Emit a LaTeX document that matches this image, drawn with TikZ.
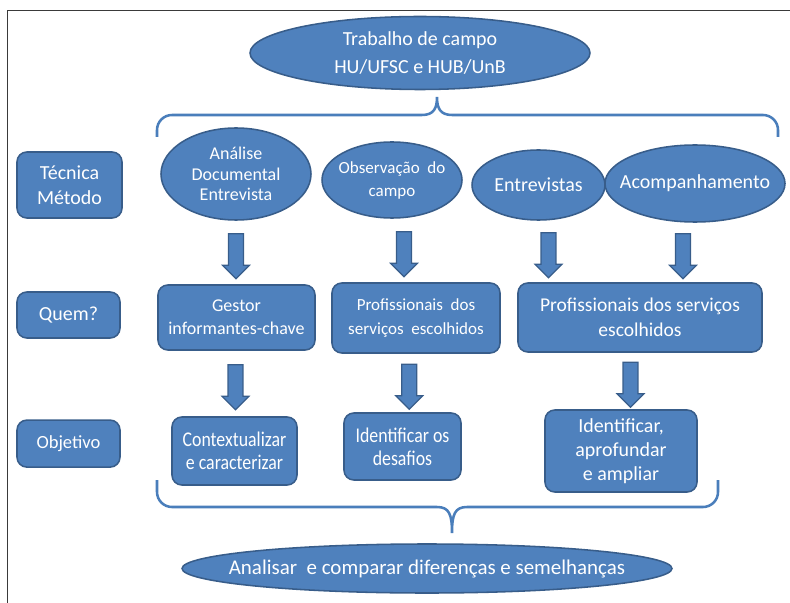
\documentclass[tikz,border=0pt]{standalone}
\usepackage{fontspec}
\setmainfont{Carlito}
\newfontfamily\narrowfont[FakeStretch=0.85]{Carlito}
\usepackage{tikz}
\usetikzlibrary{positioning,calc,shapes.geometric,shapes.arrows}
\definecolor{campoblue}{HTML}{4F81BD}
\definecolor{campoedge}{HTML}{385D8A}
\definecolor{campobrace}{HTML}{4A7EBB}
\definecolor{framegray}{HTML}{3A3A3A}

\begin{document}
\begin{tikzpicture}[
  ell/.style={ellipse, draw=campoedge, fill=campoblue, line width=1.1pt, text=white,
              align=center, inner sep=0pt},
  box/.style={rectangle, rounded corners=7pt, draw=campoedge, fill=campoblue, line width=1.1pt,
              text=white, align=center, inner sep=0pt},
  blk/.style={single arrow, draw=campoedge, fill=campoblue, line width=0.9pt, shape border rotate=270,
              minimum height=1.125cm, minimum width=0.65cm, single arrow head extend=0.15cm,
              inner sep=0.17cm},
  brc/.style={draw=campobrace, line width=1.8pt},
]
\useasboundingbox (0,0) rectangle (19.75,-15.075);
\draw[framegray, line width=0.6pt] (19.75,-0.25) -- (0.175,-0.25) -- (0.175,-15.075);

% top
\node[ell, minimum width=8.5cm, minimum height=1.825cm, font=\fontsize{14.2}{19.9}\selectfont] (trab)
  at (10.5,-1.325) {Trabalho de campo\\HU/UFSC e HUB/UnB};
\draw[brc] (3.925,-3.425) -- (3.925,-3.25) arc[start angle=180, end angle=90, radius=0.375]
  -- (10.55,-2.875) .. controls (10.85,-2.875) and (10.925,-2.7) .. (10.925,-2.425)
  .. controls (10.925,-2.7) and (11.0,-2.875) .. (11.3,-2.875)
  -- (19.075,-2.875) arc[start angle=90, end angle=0, radius=0.375] -- (19.45,-3.425);

% left column
\node[box, minimum width=2.625cm, minimum height=1.65cm, font=\fontsize{14.2}{17.8}\selectfont] (tec)
  at (1.7375,-4.625) {Técnica\\Método};
\node[box, minimum width=2.575cm, minimum height=1.15cm, font=\fontsize{14.2}{17}\selectfont] (quem)
  at (1.7125,-7.875) {Quem?};
\node[box, minimum width=2.575cm, minimum height=1.175cm, font=\fontsize{13.2}{16}\selectfont] (obj)
  at (1.7125,-11.09) {Objetivo};

% techniques
\node[ell, minimum width=3.75cm, minimum height=2.3cm, font=\fontsize{12.8}{14.6}\selectfont] (anal)
  at (5.9,-4.35) {Análise\\Documental\\Entrevista};
\node[ell, minimum width=3.5cm, minimum height=1.9cm, inner xsep=-0.15cm,
      font=\fontsize{12.1}{16.4}\selectfont] (obs)
  at (9.8,-4.5) {Observação\ \ do\\campo};
\node[ell, minimum width=3.325cm, minimum height=1.75cm, font=\fontsize{14.2}{17}\selectfont] (entr)
  at (13.4625,-4.625) {Entrevistas};
\node[ell, minimum width=4.5cm, minimum height=1.925cm, inner xsep=-0.38cm,
      font=\fontsize{14.2}{17}\selectfont] (acomp)
  at (17.375,-4.5875) {Acompanhamento};

% who
\node[box, minimum width=3.925cm, minimum height=1.625cm, font=\fontsize{12.8}{16.4}\selectfont] (gest)
  at (5.9125,-7.9375) {Gestor\\informantes-chave};
\node[box, minimum width=4.2cm, minimum height=1.75cm, font=\fontsize{12.1}{16.4}\selectfont] (prof)
  at (10.4,-7.95) {Profissionais\ \ dos\\serviços\ \ escolhidos};
\node[box, minimum width=6.1cm, minimum height=1.725cm, font=\fontsize{13.9}{17.8}\selectfont] (profs)
  at (16,-7.9375) {Profissionais dos serviços\\escolhidos};

% aims
\node[box, minimum width=3.125cm, minimum height=1.7cm, font=\narrowfont\fontsize{14.9}{16.4}\selectfont] (cont)
  at (5.8625,-11.275) {Contextualizar\\e caracterizar};
\node[box, minimum width=2.925cm, minimum height=1.675cm, font=\narrowfont\fontsize{14.9}{16.4}\selectfont] (desa)
  at (10.0625,-11.1625) {Identificar os\\desafios};
\node[box, minimum width=3.8cm, minimum height=2.05cm, font=\fontsize{14.2}{17}\selectfont] (iden)
  at (15.525,-11.275) {Identificar,\\aprofundar\\e ampliar};

% arrows
\path (anal.south) -- (anal.south |- gest.north) node[midway, blk] (a1) {};
\path (obs.south) -- (prof.north) node[midway, blk] (a2) {};
\path ([xshift=0.25cm]entr.south) -- ([xshift=0.25cm]entr.south |- profs.north) node[midway, blk] (a3) {};
\path ([xshift=-0.3cm]acomp.south) -- ([xshift=-0.3cm]acomp.south |- profs.north) node[midway, blk] (a4) {};
\path (gest.south) -- (cont.north) node[midway, blk] (b1) {};
\path (prof.south) -- (desa.north) node[midway, blk] (b2) {};
\path (profs.south) -- (iden.north) node[midway, blk] (b3) {};

% bottom
\draw[brc] (3.925,-12.0) -- (3.925,-12.3) arc[start angle=180, end angle=270, radius=0.375]
  -- (10.925,-12.675) .. controls (11.225,-12.675) and (11.3,-12.85) .. (11.3,-13.325)
  .. controls (11.3,-12.85) and (11.375,-12.675) .. (11.675,-12.675)
  -- (17.575,-12.675) arc[start angle=270, end angle=360, radius=0.375] -- (17.95,-12.0);
\node[ell, minimum width=12.25cm, minimum height=1.225cm, inner xsep=-0.75cm,
      font=\fontsize{14.9}{17}\selectfont] (anls)
  at (10.675,-14.2125) {Analisar\ \ e comparar diferenças e semelhanças};
\end{tikzpicture}
\end{document}
